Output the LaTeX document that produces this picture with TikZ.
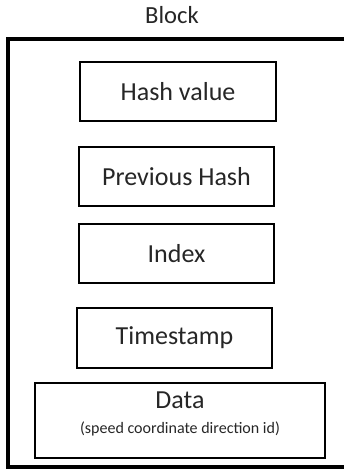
\documentclass[tikz,border=0pt]{standalone}
\usepackage{fontspec}
\setmainfont{Carlito}
\usetikzlibrary{calc}

\definecolor{ink}{HTML}{262626}

\begin{document}
\begin{tikzpicture}[
    field/.style={draw=black, line width=1.3pt, text=ink, minimum height=1.475cm,
                  inner sep=0pt, font=\fontsize{18.5}{22}\selectfont},
  ]
  \useasboundingbox (0.0, 0.0) rectangle (8.6, 11.75);

  \node (block) at (4.3, 11.375) [text=ink, font=\fontsize{17.5}{20}\selectfont] {Block};

  % frame of the block, its right side lies past the edge
  \draw [line width=2.2pt] (8.6, 10.775) -- (0.2, 10.775) -- (0.2, 0.075) -- (8.6, 0.075);

  \node (hash)  at (4.45,   9.4625) [field, minimum width=4.9cm]   {Hash value};
  \node (prev)  at (4.4125, 7.3375) [field, minimum width=4.875cm] {Previous Hash};
  \node (index) at (4.4125, 5.4125) [field, minimum width=4.875cm] {Index};
  \node (time)  at (4.3625, 3.3)    [field, minimum width=4.875cm, minimum height=1.5cm] {Timestamp};
  \node (data)  at (4.5,    1.2375) [field, minimum width=7.25cm, minimum height=1.875cm,
                                     align=center, text depth=11pt]
    {Data\\[-4pt]{\fontsize{11.4}{13}\selectfont (speed coordinate direction id)}};
\end{tikzpicture}
\end{document}
